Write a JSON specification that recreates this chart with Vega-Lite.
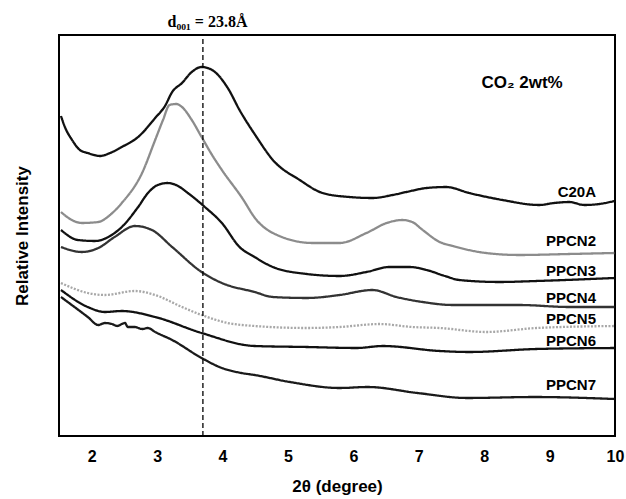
{
  "$schema": "https://vega.github.io/schema/vega-lite/v6.json",
  "width": 556,
  "height": 401,
  "autosize": "none",
  "padding": {"left": 59, "top": 35, "right": 11, "bottom": 63},
  "background": "white",
  "config": {
    "view": {"stroke": "black", "strokeWidth": 2},
    "font": "Liberation Sans",
    "axis": {"grid": false}
  },
  "datasets": {
    "xrd": [
      {"s":"C20A","x":1.53,"y":320},{"s":"C20A","x":1.59,"y":309},{"s":"C20A","x":1.70,"y":296},{"s":"C20A","x":1.82,"y":286},{"s":"C20A","x":1.94,"y":283},{"s":"C20A","x":2.13,"y":280},{"s":"C20A","x":2.28,"y":283},{"s":"C20A","x":2.46,"y":289},{"s":"C20A","x":2.71,"y":299},{"s":"C20A","x":2.97,"y":318},{"s":"C20A","x":3.12,"y":330},{"s":"C20A","x":3.23,"y":344},{"s":"C20A","x":3.38,"y":353},{"s":"C20A","x":3.53,"y":364},{"s":"C20A","x":3.68,"y":369},{"s":"C20A","x":3.84,"y":366},{"s":"C20A","x":4.08,"y":348},{"s":"C20A","x":4.26,"y":326},{"s":"C20A","x":4.52,"y":299},{"s":"C20A","x":4.77,"y":276},{"s":"C20A","x":5.18,"y":256},{"s":"C20A","x":5.53,"y":243},{"s":"C20A","x":5.94,"y":239},{"s":"C20A","x":6.29,"y":238},{"s":"C20A","x":6.60,"y":241},{"s":"C20A","x":6.81,"y":244},{"s":"C20A","x":7.12,"y":248},{"s":"C20A","x":7.42,"y":249},{"s":"C20A","x":7.77,"y":243},{"s":"C20A","x":8.28,"y":236},{"s":"C20A","x":8.84,"y":231},{"s":"C20A","x":9.07,"y":233},{"s":"C20A","x":9.30,"y":234},{"s":"C20A","x":9.53,"y":231},{"s":"C20A","x":9.76,"y":232},{"s":"C20A","x":9.99,"y":235},
      {"s":"PPCN2","x":1.53,"y":224},{"s":"PPCN2","x":1.67,"y":217},{"s":"PPCN2","x":1.85,"y":213},{"s":"PPCN2","x":2.10,"y":214},{"s":"PPCN2","x":2.28,"y":221},{"s":"PPCN2","x":2.46,"y":233},{"s":"PPCN2","x":2.77,"y":263},{"s":"PPCN2","x":2.97,"y":296},{"s":"PPCN2","x":3.09,"y":316},{"s":"PPCN2","x":3.19,"y":331},{"s":"PPCN2","x":3.29,"y":332},{"s":"PPCN2","x":3.38,"y":329},{"s":"PPCN2","x":3.53,"y":316},{"s":"PPCN2","x":3.68,"y":299},{"s":"PPCN2","x":3.84,"y":281},{"s":"PPCN2","x":3.99,"y":266},{"s":"PPCN2","x":4.29,"y":239},{"s":"PPCN2","x":4.52,"y":216},{"s":"PPCN2","x":4.77,"y":203},{"s":"PPCN2","x":5.38,"y":193},{"s":"PPCN2","x":5.79,"y":193},{"s":"PPCN2","x":6.20,"y":203},{"s":"PPCN2","x":6.51,"y":213},{"s":"PPCN2","x":6.75,"y":216},{"s":"PPCN2","x":6.90,"y":214},{"s":"PPCN2","x":7.06,"y":206},{"s":"PPCN2","x":7.32,"y":194},{"s":"PPCN2","x":7.52,"y":190},{"s":"PPCN2","x":8.03,"y":183},{"s":"PPCN2","x":8.54,"y":181},{"s":"PPCN2","x":9.30,"y":182},{"s":"PPCN2","x":9.99,"y":183},
      {"s":"PPCN3","x":1.53,"y":206},{"s":"PPCN3","x":1.79,"y":196},{"s":"PPCN3","x":2.05,"y":195},{"s":"PPCN3","x":2.28,"y":200},{"s":"PPCN3","x":2.46,"y":209},{"s":"PPCN3","x":2.71,"y":229},{"s":"PPCN3","x":2.86,"y":243},{"s":"PPCN3","x":3.01,"y":251},{"s":"PPCN3","x":3.16,"y":253},{"s":"PPCN3","x":3.32,"y":250},{"s":"PPCN3","x":3.47,"y":243},{"s":"PPCN3","x":3.73,"y":229},{"s":"PPCN3","x":3.99,"y":213},{"s":"PPCN3","x":4.26,"y":189},{"s":"PPCN3","x":4.49,"y":179},{"s":"PPCN3","x":4.77,"y":169},{"s":"PPCN3","x":5.29,"y":162},{"s":"PPCN3","x":5.79,"y":160},{"s":"PPCN3","x":6.20,"y":164},{"s":"PPCN3","x":6.55,"y":169},{"s":"PPCN3","x":6.86,"y":169},{"s":"PPCN3","x":7.12,"y":166},{"s":"PPCN3","x":7.40,"y":160},{"s":"PPCN3","x":7.62,"y":156},{"s":"PPCN3","x":8.23,"y":154},{"s":"PPCN3","x":8.80,"y":155},{"s":"PPCN3","x":9.99,"y":158},
      {"s":"PPCN4","x":1.53,"y":189},{"s":"PPCN4","x":1.85,"y":184},{"s":"PPCN4","x":2.10,"y":188},{"s":"PPCN4","x":2.35,"y":199},{"s":"PPCN4","x":2.66,"y":210},{"s":"PPCN4","x":2.92,"y":206},{"s":"PPCN4","x":3.23,"y":189},{"s":"PPCN4","x":3.68,"y":164},{"s":"PPCN4","x":3.99,"y":153},{"s":"PPCN4","x":4.49,"y":144},{"s":"PPCN4","x":4.77,"y":139},{"s":"PPCN4","x":5.29,"y":138},{"s":"PPCN4","x":5.79,"y":141},{"s":"PPCN4","x":6.29,"y":146},{"s":"PPCN4","x":6.66,"y":139},{"s":"PPCN4","x":7.06,"y":134},{"s":"PPCN4","x":7.52,"y":131},{"s":"PPCN4","x":8.54,"y":131},{"s":"PPCN4","x":9.30,"y":129},{"s":"PPCN4","x":9.99,"y":129},
      {"s":"PPCN5","x":1.53,"y":153},{"s":"PPCN5","x":1.94,"y":143},{"s":"PPCN5","x":2.20,"y":141},{"s":"PPCN5","x":2.66,"y":145},{"s":"PPCN5","x":2.97,"y":141},{"s":"PPCN5","x":3.38,"y":129},{"s":"PPCN5","x":3.68,"y":121},{"s":"PPCN5","x":4.08,"y":113},{"s":"PPCN5","x":4.49,"y":110},{"s":"PPCN5","x":5.29,"y":108},{"s":"PPCN5","x":5.79,"y":109},{"s":"PPCN5","x":6.40,"y":112},{"s":"PPCN5","x":6.90,"y":109},{"s":"PPCN5","x":7.32,"y":108},{"s":"PPCN5","x":8.03,"y":104},{"s":"PPCN5","x":8.80,"y":108},{"s":"PPCN5","x":9.99,"y":110},
      {"s":"PPCN6","x":1.53,"y":146},{"s":"PPCN6","x":1.94,"y":129},{"s":"PPCN6","x":2.20,"y":124},{"s":"PPCN6","x":2.46,"y":125},{"s":"PPCN6","x":2.97,"y":119},{"s":"PPCN6","x":3.68,"y":103},{"s":"PPCN6","x":4.49,"y":90},{"s":"PPCN6","x":5.29,"y":89},{"s":"PPCN6","x":6.05,"y":88},{"s":"PPCN6","x":6.45,"y":90},{"s":"PPCN6","x":7.32,"y":85},{"s":"PPCN6","x":7.77,"y":84},{"s":"PPCN6","x":8.80,"y":87},{"s":"PPCN6","x":9.99,"y":88},
      {"s":"PPCN7","x":1.53,"y":139},{"s":"PPCN7","x":1.94,"y":119},{"s":"PPCN7","x":2.10,"y":111},{"s":"PPCN7","x":2.20,"y":113},{"s":"PPCN7","x":2.31,"y":112},{"s":"PPCN7","x":2.39,"y":110},{"s":"PPCN7","x":2.46,"y":112},{"s":"PPCN7","x":2.51,"y":113},{"s":"PPCN7","x":2.55,"y":109},{"s":"PPCN7","x":2.66,"y":109},{"s":"PPCN7","x":2.77,"y":107},{"s":"PPCN7","x":2.86,"y":108},{"s":"PPCN7","x":2.97,"y":104},{"s":"PPCN7","x":3.23,"y":96},{"s":"PPCN7","x":3.68,"y":78},{"s":"PPCN7","x":3.99,"y":68},{"s":"PPCN7","x":4.29,"y":63},{"s":"PPCN7","x":4.49,"y":61},{"s":"PPCN7","x":5.03,"y":54},{"s":"PPCN7","x":5.79,"y":48},{"s":"PPCN7","x":6.22,"y":49},{"s":"PPCN7","x":6.98,"y":43},{"s":"PPCN7","x":7.74,"y":38},{"s":"PPCN7","x":8.77,"y":39},{"s":"PPCN7","x":9.99,"y":37}
    ],
    "labels": [
      {"label":"C20A","x":9.71,"y":244},
      {"label":"PPCN2","x":9.71,"y":195},
      {"label":"PPCN3","x":9.71,"y":165},
      {"label":"PPCN4","x":9.71,"y":138},
      {"label":"PPCN5","x":9.71,"y":117},
      {"label":"PPCN6","x":9.71,"y":95},
      {"label":"PPCN7","x":9.71,"y":51}
    ],
    "notes": [
      {"note":"CO₂ 2wt%","x":8.58,"y":353}
    ],
    "dline": [
      {"x":3.7,"y":0,"y2":401}
    ],
    "dtext": [
      {"note":"d₀₀₁ = 23.8Å","x":3.77,"y":401}
    ],
    "majorTicks": [
      {"x":2},{"x":3},{"x":4},{"x":5},{"x":6},{"x":7},{"x":8},{"x":9}
    ],
    "minorTicks": [
      {"x":1.6},{"x":1.8},{"x":2.2},{"x":2.4},{"x":2.6},{"x":2.8},{"x":3.2},{"x":3.4},{"x":3.6},{"x":3.8},{"x":4.2},{"x":4.4},{"x":4.6},{"x":4.8},{"x":5.2},{"x":5.4},{"x":5.6},{"x":5.8},{"x":6.2},{"x":6.4},{"x":6.6},{"x":6.8},{"x":7.2},{"x":7.4},{"x":7.6},{"x":7.8},{"x":8.2},{"x":8.4},{"x":8.6},{"x":8.8},{"x":9.2},{"x":9.4},{"x":9.6},{"x":9.8}
    ]
  },
  "encoding": {
    "x": {
      "field": "x", "type": "quantitative",
      "scale": {"domain": [1.5, 10], "nice": false, "zero": false},
      "axis": {
        "title": "2θ (degree)",
        "titleFontSize": 17, "titleFontWeight": "bold", "titleColor": "black", "titlePadding": 14,
        "values": [2,3,4,5,6,7,8,9,10],
        "labelFontSize": 16, "labelFontWeight": "bold", "labelColor": "black",
        "labelOverlap": false, "labelFlush": false, "labelPadding": 12,
        "domain": false,
        "ticks": false
      }
    },
    "y": {
      "field": "y", "type": "quantitative",
      "scale": {"domain": [0, 401], "nice": false},
      "axis": {
        "title": "Relative Intensity",
        "titleFontSize": 17, "titleFontWeight": "bold", "titleColor": "black", "titlePadding": 28,
        "labels": false, "ticks": false, "domain": false
      }
    }
  },
  "layer": [
    {
      "data": {"name": "xrd"},
      "mark": {"type": "line", "strokeWidth": 2.3, "interpolate": "monotone"},
      "encoding": {
        "color": {
          "field": "s", "type": "nominal",
          "scale": {"domain": ["C20A","PPCN2","PPCN3","PPCN4","PPCN5","PPCN6","PPCN7"],
                    "range": ["#111111","#8c8c8c","#111111","#333333","#a8a8a8","#111111","#1a1a1a"]},
          "legend": null
        },
        "strokeDash": {
          "field": "s", "type": "nominal",
          "scale": {"domain": ["C20A","PPCN2","PPCN3","PPCN4","PPCN5","PPCN6","PPCN7"],
                    "range": [[1,0],[1,0],[1,0],[1,0],[2,1.5],[1,0],[1,0]]},
          "legend": null
        }
      }
    },
    {
      "data": {"name": "dline"},
      "mark": {"type": "rule", "color": "black", "strokeWidth": 1.3, "strokeDash": [5, 3]},
      "encoding": {"y2": {"field": "y2"}}
    },
    {
      "data": {"name": "labels"},
      "mark": {"type": "text", "align": "right", "baseline": "middle", "font": "Liberation Sans", "fontWeight": "bold", "fontSize": 15, "color": "black"},
      "encoding": {"text": {"field": "label"}}
    },
    {
      "data": {"name": "notes"},
      "mark": {"type": "text", "align": "center", "baseline": "middle", "font": "Liberation Sans", "fontWeight": "bold", "fontSize": 17, "color": "black"},
      "encoding": {"text": {"field": "note"}}
    },
    {
      "data": {"name": "dtext"},
      "mark": {"type": "text", "align": "center", "baseline": "alphabetic", "font": "Liberation Serif", "fontWeight": "bold", "fontSize": 16, "color": "black", "dy": -8},
      "encoding": {"text": {"field": "note"}}
    },
    {
      "data": {"name": "majorTicks"},
      "mark": {"type": "tick", "orient": "vertical", "color": "black", "size": 16, "thickness": 1.6, "opacity": 1},
      "encoding": {"y": {"datum": 0}}
    },
    {
      "data": {"name": "minorTicks"},
      "mark": {"type": "tick", "orient": "vertical", "color": "black", "size": 10, "thickness": 1.6, "opacity": 1},
      "encoding": {"y": {"datum": 0}}
    }
  ]
}
